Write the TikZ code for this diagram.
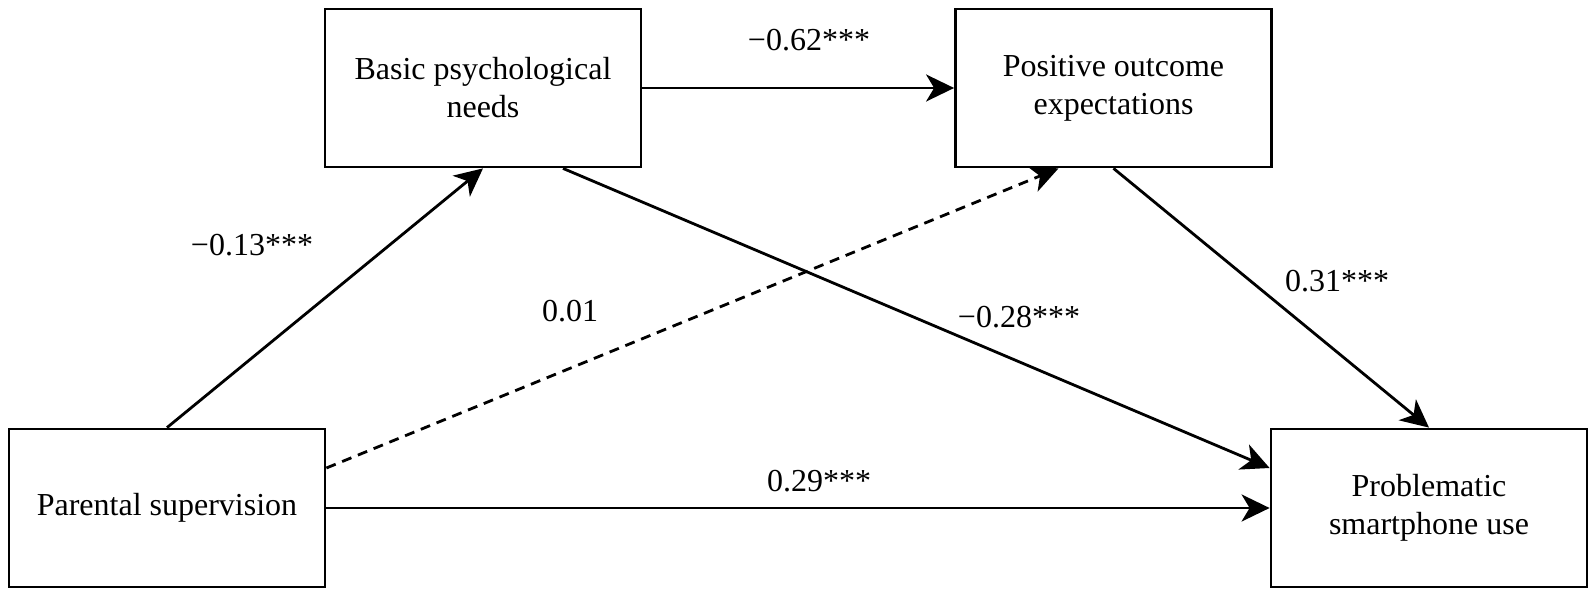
\documentclass[tikz,border=0pt]{standalone}
\usepackage{fontspec}
\setmainfont{Liberation Serif}
\usetikzlibrary{arrows.meta}
\begin{document}
\begin{tikzpicture}[x=1bp,y=-1bp,
  box/.style={draw,line width=2.8bp,minimum width=316bp,minimum height=158bp,
    align=center,inner sep=0pt,font=\fontsize{32bp}{38bp}\selectfont},
  lab/.style={inner sep=0pt,font=\fontsize{32bp}{38bp}\selectfont},
  conn/.style={line width=2.8bp,-{Stealth[length=28bp,width=27bp,inset=8bp]}},
  dsh/.style={conn,dash pattern=on 10bp off 7bp}]
\useasboundingbox (0,0) rectangle (1595,596);
\node[box] (ps) at (167,508) {Parental supervision};
\node[box] (bpn) at (483,88) {Basic psychological\\needs};
\node[box] (poe) at (1113.5,88) {Positive outcome\\expectations};
\node[box] (psu) at (1429,508) {Problematic\\smartphone use};
\draw[conn] (ps.north) -- (bpn.south);
\draw[conn] (bpn.east) -- (poe.west);
\draw[conn] ([xshift=80bp]bpn.south) -- ([yshift=40bp]psu.west);
\draw[dsh] ([yshift=40bp]ps.east) -- ([xshift=-55bp]poe.south);
\draw[conn] (poe.south) -- (psu.north);
\draw[conn] (ps.east) -- (psu.west);
\node[lab] (l1) at (252,245) {−0.13***};
\node[lab] (l2) at (570,311) {0.01};
\node[lab] (l3) at (809,40) {−0.62***};
\node[lab] (l4) at (1019,317) {−0.28***};
\node[lab] (l5) at (1337,281) {0.31***};
\node[lab] (l6) at (819,481) {0.29***};
\end{tikzpicture}
\end{document}
